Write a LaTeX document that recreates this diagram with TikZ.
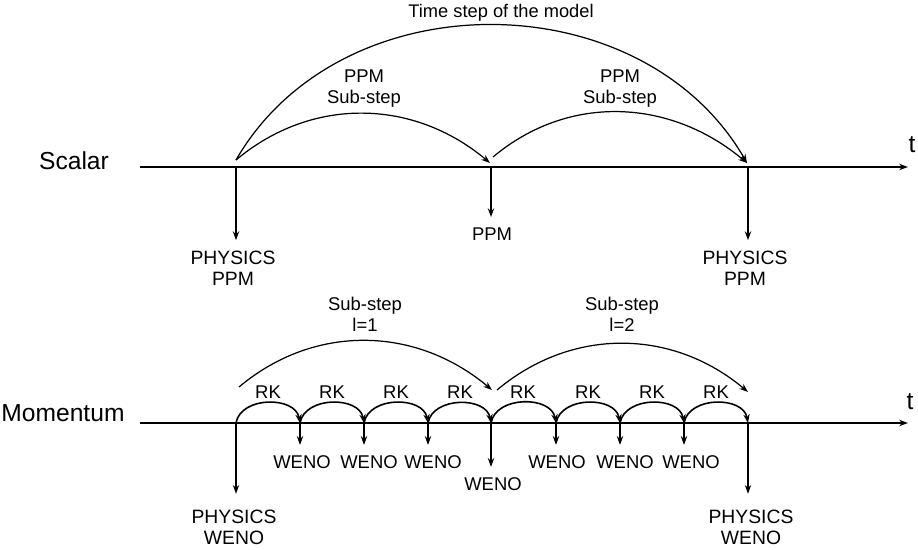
\documentclass[tikz,border=0pt]{standalone}
\usepackage{fontspec}
\setmainfont{Liberation Sans}
\usetikzlibrary{arrows.meta,positioning,calc}
\tikzset{
  lbl/.style={align=center, inner sep=1pt, font=\fontsize{10.5}{12}\selectfont},
  dlbl/.style={lbl, outer sep=5pt},
  physlbl/.style={dlbl, outer sep=8pt, font=\fontsize{11}{12}\selectfont},
  rowname/.style={inner sep=1pt, font=\fontsize{14}{16}\selectfont},
  timeaxis/.style={-{Stealth[length=5pt,width=3.6pt]}, line width=1pt},
  edge/.style={-{Stealth[length=5pt,width=3.6pt]}, line width=1pt},
  steparc/.style={-{Stealth[length=5pt,width=3.6pt]}, line width=0.7pt},
  rkarc/.style={-{Stealth[length=5pt,width=3.6pt]}, line width=0.9pt, out=80, in=100, looseness=1.1}
}

\begin{document}
\begin{tikzpicture}[x=0.02cm, y=0.02cm]
\useasboundingbox (0,0) rectangle (918,550);

% scalar time line
\coordinate (sstart) at (140,383);
\coordinate (send) at (908,383);
\coordinate (s0) at (236,383);
\coordinate (s1) at (491,383);
\coordinate (s2) at (748,383);
\node[rowname] (scalar) at (74,389) {Scalar};
\node[rowname] (tscalar) at (912,405) {t};
\draw[timeaxis] (sstart) -- (send);

\node[lbl, font=\fontsize{10.4}{12}\selectfont] (timestep) at (501,537) {Time step of the model};
\node[lbl] (ppmA) at (364,461) {PPM\\Sub-step};
\node[lbl] (ppmB) at (620,461) {PPM\\Sub-step};
\node[physlbl, outer sep=5pt] (physA) at (233,282) {PHYSICS\\PPM};
\node[dlbl] (ppmC) at (492,316) {PPM};
\node[physlbl, outer sep=5pt] (physB) at (745,282) {PHYSICS\\PPM};

\draw[steparc] ($(s0)+(0,7)$) to[out=60, in=120, looseness=1.05] ($(s2)+(-1,4)$);
\draw[steparc] ($(s0)+(0,7)$) to[out=40, in=140] ($(s1)+(-1,4)$);
\draw[steparc] ($(s1)+(2,10)$) to[out=40, in=140] ($(s2)+(-1,4)$);

\draw[edge] (s0) -- (s0 |- physA.north);
\draw[edge] (s1) -- (s1 |- ppmC.north);
\draw[edge] (s2) -- (s2 |- physB.north);

% momentum time line
\coordinate (mstart) at (140,127);
\coordinate (mend) at (908,127);
\coordinate (m0) at (236,127);
\coordinate (m1) at (300,127);
\coordinate (m2) at (364,127);
\coordinate (m3) at (428,127);
\coordinate (m4) at (491,127);
\coordinate (m5) at (556,127);
\coordinate (m6) at (620,127);
\coordinate (m7) at (684,127);
\coordinate (m8) at (748,127);
\node[rowname] (momentum) at (63,137) {Momentum};
\node[rowname] (tmom) at (910,148) {t};
\draw[timeaxis] (mstart) -- (mend);

\node[lbl] (subA) at (365,236) {Sub-step\\l=1};
\node[lbl] (subB) at (622,236) {Sub-step\\l=2};
\draw[steparc] ($(m0)+(3,36)$) to[out=40, in=140] ($(m4)+(1,33)$);
\draw[steparc] ($(m4)+(6,33)$) to[out=40, in=140] ($(m8)+(0,31)$);

\node[lbl] (rk1) at (268,158) {RK};
\node[lbl] (rk2) at (332,158) {RK};
\node[lbl] (rk3) at (396,158) {RK};
\node[lbl] (rk4) at (460,158) {RK};
\node[lbl] (rk5) at (523,158) {RK};
\node[lbl] (rk6) at (588,158) {RK};
\node[lbl] (rk7) at (652,158) {RK};
\node[lbl] (rk8) at (716,158) {RK};
\draw[rkarc] (m0) to (m1);
\draw[rkarc] (m1) to (m2);
\draw[rkarc] (m2) to (m3);
\draw[rkarc] (m3) to (m4);
\draw[rkarc] (m4) to (m5);
\draw[rkarc] (m5) to (m6);
\draw[rkarc] (m6) to (m7);
\draw[rkarc] (m7) to (m8);

\node[physlbl] (physC) at (234,23) {PHYSICS\\WENO};
\node[dlbl] (w1) at (302,88) {WENO};
\node[dlbl] (w2) at (369,88) {WENO};
\node[dlbl] (w3) at (433,88) {WENO};
\node[dlbl] (wmid) at (493,66) {WENO};
\node[dlbl] (w5) at (557,88) {WENO};
\node[dlbl] (w6) at (625,88) {WENO};
\node[dlbl] (w7) at (691,88) {WENO};
\node[physlbl] (physD) at (751,23) {PHYSICS\\WENO};

\draw[edge] (m0) -- (m0 |- physC.north);
\draw[edge] (m1) -- (m1 |- w1.north);
\draw[edge] (m2) -- (m2 |- w2.north);
\draw[edge] (m3) -- (m3 |- w3.north);
\draw[edge] (m4) -- (m4 |- wmid.north);
\draw[edge] (m5) -- (m5 |- w5.north);
\draw[edge] (m6) -- (m6 |- w6.north);
\draw[edge] (m7) -- (m7 |- w7.north);
\draw[edge] (m8) -- (m8 |- physD.north);
\end{tikzpicture}
\end{document}
